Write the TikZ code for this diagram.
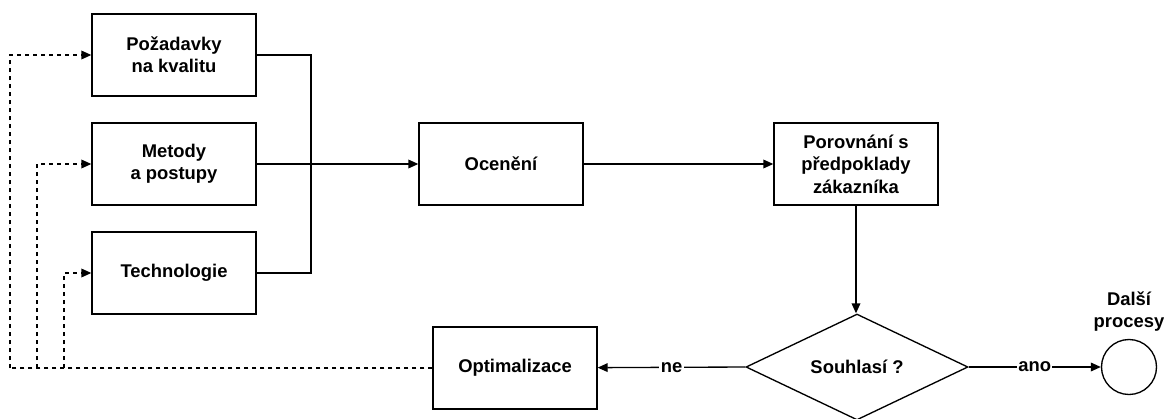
\documentclass[tikz,border=0pt]{standalone}
\usepackage{fontspec}
\setmainfont{Liberation Sans}
\usetikzlibrary{arrows.meta,shapes.geometric}

\begin{document}
\begin{tikzpicture}[x=0.75pt, y=-0.75pt,
  font=\bfseries\fontsize{13.8}{16.8}\selectfont,
  box/.style={draw, line width=1pt, minimum width=123pt, minimum height=61.5pt, align=center, inner sep=0pt},
  arr/.style={-{Triangle[length=7.5pt, width=6.5pt]}, line width=1pt},
  fb/.style={dash pattern=on 3pt off 3pt, line width=0.8pt}]
\useasboundingbox (0, 0) rectangle (1164, 418);

\node [box] (pozad) at (174, 55) {Požadavky\\na kvalitu};
\node [box] (metody) at (174, 164) {Metody\\a postupy};
\node [box] (tech) at (174, 273) {Technologie};

\node [box] (ocen) at (501, 164) {Ocenění};
\node [box] (porov) at (856, 164) {Porovnání s\\předpoklady\\zákazníka};

\node [draw, diamond, line width=1pt, shape aspect=2.1, inner sep=0pt, minimum width=166.5pt, minimum height=79.5pt] (souhl) at (857, 367) {Souhlasí ?};
\node [box] (optim) at (515, 368) {Optimalizace};
\node [draw, circle, line width=1pt, minimum size=41.25pt, inner sep=0pt, label={[align=center, yshift=2pt]above:Další\\procesy}] (dalsi) at (1129, 367) {};

\coordinate (junct) at (311, 164);
\draw [line width=1pt] (pozad.east) -| (junct) |- (tech.east);
\draw [arr] (metody) -- (ocen);
\draw [arr] (ocen) -- (porov);
\draw [arr] (porov) -- (porov |- souhl.north);
\draw [arr] (souhl.west) -- node [fill=white, inner sep=1pt] {ne} (optim);
\draw [arr] (souhl.east) -- node [fill=white, inner sep=1pt] {ano} (dalsi);

% zpetna vazba
\coordinate (fb1) at (10, 368);
\coordinate (fb2) at (37, 368);
\coordinate (fb3) at (64, 368);
\draw [fb] (optim.west) -- (fb1);
\draw [fb, arr] (fb1) |- (pozad.west);
\draw [fb, arr] (fb2) |- (metody.west);
\draw [fb, arr] (fb3) |- (tech.west);
\end{tikzpicture}
\end{document}
